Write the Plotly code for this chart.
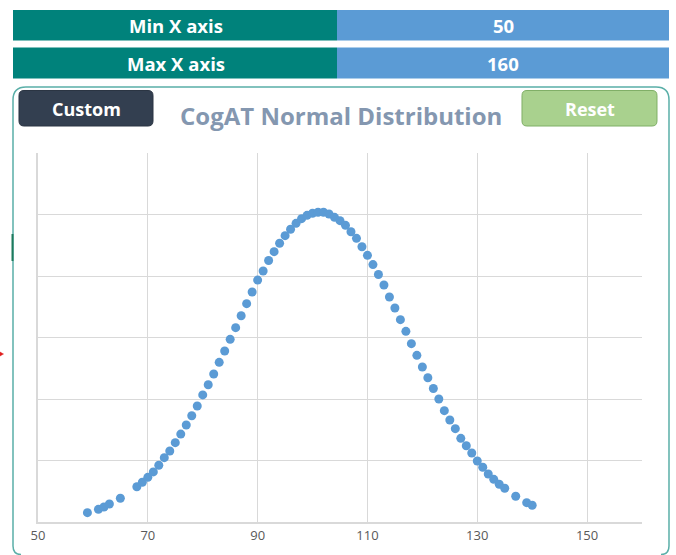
import plotly.graph_objects as go

# ---------------- data ----------------
x_scores = [59, 61, 62, 63, 65, 68, 69, 70, 71, 72, 73, 74, 75, 76, 77, 78, 79,
            80, 81, 82, 83, 84, 85, 86, 87, 88, 89, 90, 91, 92, 93, 94, 95, 96,
            97, 98, 99, 100, 101, 102, 103, 104, 105, 106, 107, 108, 109, 110,
            111, 112, 113, 114, 115, 116, 117, 118, 119, 120, 121, 122, 123,
            124, 125, 126, 127, 128, 129, 130, 131, 132, 133, 134, 135, 137,
            139, 140]
densities = [0.00076, 0.00103, 0.00122, 0.00146, 0.00193, 0.00287, 0.00323,
             0.00363, 0.00407, 0.00461, 0.00523, 0.00577, 0.00645, 0.00715,
             0.00789, 0.00864, 0.00943, 0.01033, 0.01116, 0.01203, 0.01298,
             0.01390, 0.01485, 0.01580, 0.01677, 0.01775, 0.01870, 0.01967,
             0.02041, 0.02126, 0.02198, 0.02266, 0.02328, 0.02380, 0.02428,
             0.02466, 0.02493, 0.02510, 0.02518, 0.02518, 0.02504, 0.02477,
             0.02450, 0.02412, 0.02360, 0.02306, 0.02238, 0.02168, 0.02093,
             0.02012, 0.01927, 0.01829, 0.01740, 0.01645, 0.01550, 0.01450,
             0.01355, 0.01260, 0.01173, 0.01085, 0.01000, 0.00905, 0.00829,
             0.00759, 0.00680, 0.00620, 0.00561, 0.00496, 0.00445, 0.00390,
             0.00347, 0.00307, 0.00274, 0.00209, 0.00157, 0.00136]
x_ticks = [50, 70, 90, 110, 130, 150]
x_min, x_max = 50, 160
header_labels = ["Min X axis", "Max X axis"]
header_values = ["50", "160"]
title_text = "CogAT Normal Distribution"
button_labels = ["Custom", "Reset"]

# ---------------- layout geometry ----------------
W, H = 676, 555
L, R, T, B = 38, 34, 153, 33
PW, PH = W - L - R, H - T - B


def fx(p):
    return (p - L) / PW


def fy(p):
    return (H - B - p) / PH


def pt(x, y):
    return f"{fx(x):.5f},{fy(y):.5f}"


def rrect(x0, y0, x1, y1, r):
    return (f"M {pt(x0 + r, y0)} L {pt(x1 - r, y0)} Q {pt(x1, y0)} {pt(x1, y0 + r)} "
            f"L {pt(x1, y1 - r)} Q {pt(x1, y1)} {pt(x1 - r, y1)} L {pt(x0 + r, y1)} "
            f"Q {pt(x0, y1)} {pt(x0, y1 - r)} L {pt(x0, y0 + r)} Q {pt(x0, y0)} {pt(x0 + r, y0)} Z")


def rect(x0, y0, x1, y1, fill, line=None, lw=0, layer="above"):
    return dict(type="rect", xref="paper", yref="paper",
                x0=fx(x0), x1=fx(x1), y0=fy(y1), y1=fy(y0),
                fillcolor=fill, line=dict(color=line or fill, width=lw), layer=layer)


def label(x, y, text, size, color):
    return dict(xref="paper", yref="paper", x=fx(x), y=fy(y), text=text,
                showarrow=False, xanchor="center", yanchor="middle",
                font=dict(family=FONT, size=size, color=color))


shapes = []
annotations = []
FONT = "Open Sans"

# header bars
rows = [(10, 40.5), (47.5, 78.5)]
for (y0, y1), lab, val in zip(rows, header_labels, header_values):
    shapes.append(rect(13, y0, 337, y1, "#00827B"))
    shapes.append(rect(337, y0, 669, y1, "#5B9BD5"))
    annotations.append(label(176, (y0 + y1) / 2, f"<b>{lab}</b>", 18.5, "white"))
    annotations.append(label(503, (y0 + y1) / 2, f"<b>{val}</b>", 18.5, "white"))

# chart container (bottom edge lies just below the visible window)
box_path = (f"M {pt(21, 554.5)} Q {pt(13, 554.5)} {pt(13, 546)} L {pt(13, 100)} "
            f"Q {pt(13, 87)} {pt(26, 87)} L {pt(656, 87)} Q {pt(669, 87)} {pt(669, 100)} "
            f"L {pt(669, 546)} Q {pt(669, 554.5)} {pt(661, 554.5)}")
shapes.append(dict(type="path", xref="paper", yref="paper", path=box_path,
                   line=dict(color="#5AAFA8", width=1.5), layer="below"))
# small selection marker on left border and red arrow tip
shapes.append(rect(11.5, 234, 13.5, 261, "#1E7A5C"))
shapes.append(dict(type="path", xref="paper", yref="paper",
                   path=f"M {pt(0, 352)} L {pt(3.5, 354)} L {pt(0, 356)} Z",
                   fillcolor="#E02020", line=dict(color="#E02020", width=0.5)))

# buttons
shapes.append(dict(type="path", xref="paper", yref="paper", path=rrect(19, 90.5, 153, 126, 5),
                   fillcolor="#333F50", line=dict(color="#2A3442", width=1)))
annotations.append(label(86, 109, f"<b>{button_labels[0]}</b>", 18, "white"))
shapes.append(dict(type="path", xref="paper", yref="paper", path=rrect(522, 90.5, 657, 126, 5),
                   fillcolor="#A9D18E", line=dict(color="#7FAF66", width=1)))
annotations.append(label(589.5, 109, f"<b>{button_labels[1]}</b>", 18, "white"))

# title
annotations.append(label(341, 115.5, f"<b>{title_text}</b>", 24, "#8497B0"))

fig = go.Figure()
fig.add_trace(go.Scatter(x=x_scores, y=densities, mode="markers",
                         marker=dict(size=9, color="#5B9BD5"),
                         hoverinfo="x+y", showlegend=False))

fig.update_layout(
    width=W, height=H,
    margin=dict(l=L, r=R, t=T, b=B, pad=0),
    paper_bgcolor="white", plot_bgcolor="white",
    shapes=shapes, annotations=annotations,
    xaxis=dict(range=[x_min, x_max], tickmode="array", tickvals=x_ticks,
               ticktext=[str(v) for v in x_ticks],
               showgrid=True, gridcolor="#D9D9D9", gridwidth=1,
               showline=True, linecolor="#D9D9D9", linewidth=2,
               zeroline=False, ticks="",
               tickfont=dict(family=FONT, size=13, color="#595959")),
    yaxis=dict(range=[0, 0.03], dtick=0.005, showticklabels=False,
               showgrid=True, gridcolor="#D9D9D9", gridwidth=1,
               showline=True, linecolor="#D9D9D9", linewidth=2,
               zeroline=False, ticks=""),
)

fig.write_html("out.html")
